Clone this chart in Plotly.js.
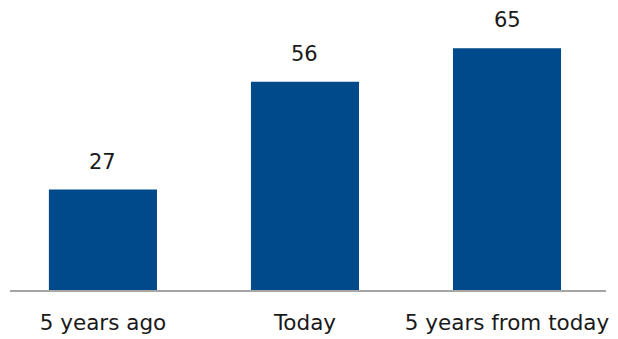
<!DOCTYPE html>
<html>
<head>
<meta charset="utf-8">
<script src="https://cdn.plot.ly/plotly-3.0.1.min.js"></script>
<style>
  html, body { margin: 0; padding: 0; background: #fff; }
  #chart { width: 618px; height: 339px; }
</style>
</head>
<body>
<div id="chart"></div>
<script>
// Periods and shares shown on the bars
const periods = ['5 years ago', 'Today', '5 years from today'];
const shares = [27, 56, 65];

const barColor = '#004a8c';
const textColor = '#1a1a1a';
const fontFamily = '"DejaVu Sans", "Open Sans", Arial, sans-serif';

const positions = periods.map((_, i) => i);

const trace = {
  type: 'bar',
  x: positions,
  y: shares,
  width: 0.535,
  marker: { color: barColor },
  hoverinfo: 'skip'
};

// Value labels above each bar
const annotations = positions.map((p, i) => ({
  x: p,
  y: shares[i],
  xref: 'x',
  yref: 'y',
  text: String(shares[i]),
  showarrow: false,
  yanchor: 'bottom',
  yshift: 14,
  font: { family: fontFamily, size: 21, color: textColor }
}));

const layout = {
  width: 618,
  height: 339,
  margin: { l: 10, r: 12, t: 0, b: 49 },
  paper_bgcolor: '#ffffff',
  plot_bgcolor: '#ffffff',
  showlegend: false,
  xaxis: {
    range: [-0.46, 2.49],
    tickmode: 'array',
    tickvals: positions,
    ticktext: periods,
    showline: true,
    linecolor: '#a6a6a6',
    linewidth: 2,
    ticks: '',
    showgrid: false,
    zeroline: false,
    ticklabelstandoff: 12,
    tickfont: { family: fontFamily, size: 21.5, color: textColor }
  },
  yaxis: {
    range: [0, 78],
    visible: false,
    showgrid: false,
    zeroline: false
  },
  annotations: annotations
};

Plotly.newPlot('chart', [trace], layout, { displayModeBar: false, staticPlot: true });
</script>
</body>
</html>
